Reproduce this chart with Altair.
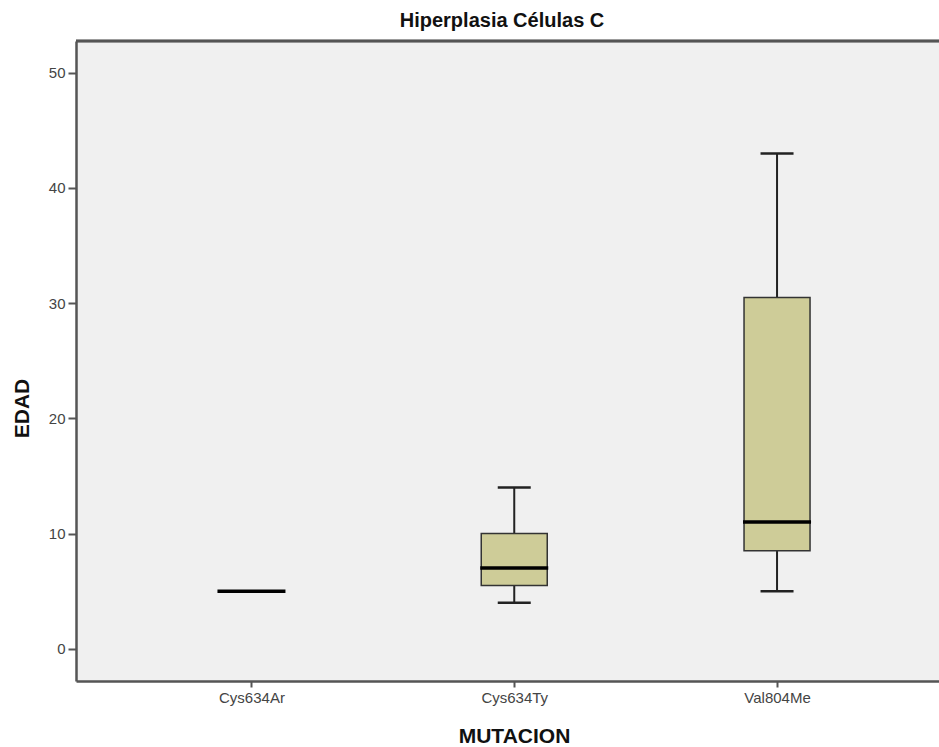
import altair as alt
import pandas as pd

# Box-plot summary of EDAD by MUTACION
mutacion = ["Cys634Ar", "Cys634Ty", "Val804Me"]
minimo = [5, 4, 5]
q1 = [5, 5.5, 8.5]
mediana = [5, 7, 11]
q3 = [5, 10, 30.5]
maximo = [5, 14, 43]
titulo = "Hiperplasia Células C"

df = pd.DataFrame({
    "MUTACION": mutacion,
    "min": minimo,
    "q1": q1,
    "med": mediana,
    "q3": q3,
    "max": maximo,
})

W, H = 863, 640
FRAME = "#555555"
FONT = "Liberation Sans"

x = alt.X(
    "MUTACION:N",
    sort=mutacion,
    scale=alt.Scale(type="point", padding=0.642, align=0.52),
    axis=alt.Axis(
        title="MUTACION",
        titleFont=FONT, titleFontSize=21, titleFontWeight="bold", titleColor="#111111",
        titleX=438, titleY=55, titleBaseline="middle", titleAlign="center",
        labelFont=FONT, labelFontSize=15, labelColor="#444444", labelAngle=0,
        labelPadding=3, tickSize=6, tickColor=FRAME, tickWidth=2,
        domainColor=FRAME, domainWidth=2.5, grid=False,
    ),
)
yscale = alt.Scale(domain=[-2.8, 52.76], nice=False, zero=False)
yaxis = alt.Axis(
    title="EDAD",
    titleFont=FONT, titleFontSize=21, titleFontWeight="bold", titleColor="#111111",
    titleX=-54, titleY=367, titleAngle=-90, titleAlign="center", titleBaseline="middle",
    labelFont=FONT, labelFontSize=15, labelColor="#444444", labelPadding=3,
    tickSize=8, tickColor=FRAME, tickWidth=2, values=[0, 10, 20, 30, 40, 50],
    domainColor=FRAME, domainWidth=2.5, grid=False,
)

base = alt.Chart(df)

whisker = base.mark_rule(color="#222222", strokeWidth=2, opacity=1).encode(
    x=x,
    y=alt.Y("min:Q", scale=yscale, axis=yaxis),
    y2="max:Q",
)
caps_low = base.mark_tick(color="#222222", size=33, thickness=2.5, opacity=1).encode(
    x=x, y=alt.Y("min:Q", scale=yscale)
)
caps_high = base.mark_tick(color="#222222", size=33, thickness=2.5, opacity=1).encode(
    x=x, y=alt.Y("max:Q", scale=yscale)
)
box = base.mark_bar(size=66, fill="#CECC98", stroke="#333333", strokeWidth=1.5, opacity=1).encode(
    x=x, y=alt.Y("q1:Q", scale=yscale), y2="q3:Q"
)
median = base.mark_tick(color="#000000", size=68, thickness=3.5, opacity=1).encode(
    x=x, y=alt.Y("med:Q", scale=yscale)
)
top_border = alt.Chart(df).mark_rule(color=FRAME, strokeWidth=2.5).encode(
    x=alt.value(0), x2=alt.value(W), y=alt.value(0)
)
title_text = alt.Chart(pd.DataFrame({"t": [titulo]})).mark_text(
    font=FONT, fontSize=20, fontWeight="bold", color="#111111",
    align="center", baseline="middle",
).encode(text="t:N", x=alt.value(426), y=alt.value(-20))

chart = (
    alt.layer(whisker, caps_low, caps_high, box, median, top_border, title_text)
    .properties(
        width=W,
        height=H,
        autosize=alt.AutoSizeParams(type="none"),
        padding={"left": 76, "top": 41, "right": 0, "bottom": 66},
        background="white",
    )
    .configure_view(fill="#F0F0F0", stroke=None)
)

chart.save("out.html", embed_options={"renderer": "svg", "actions": False})
